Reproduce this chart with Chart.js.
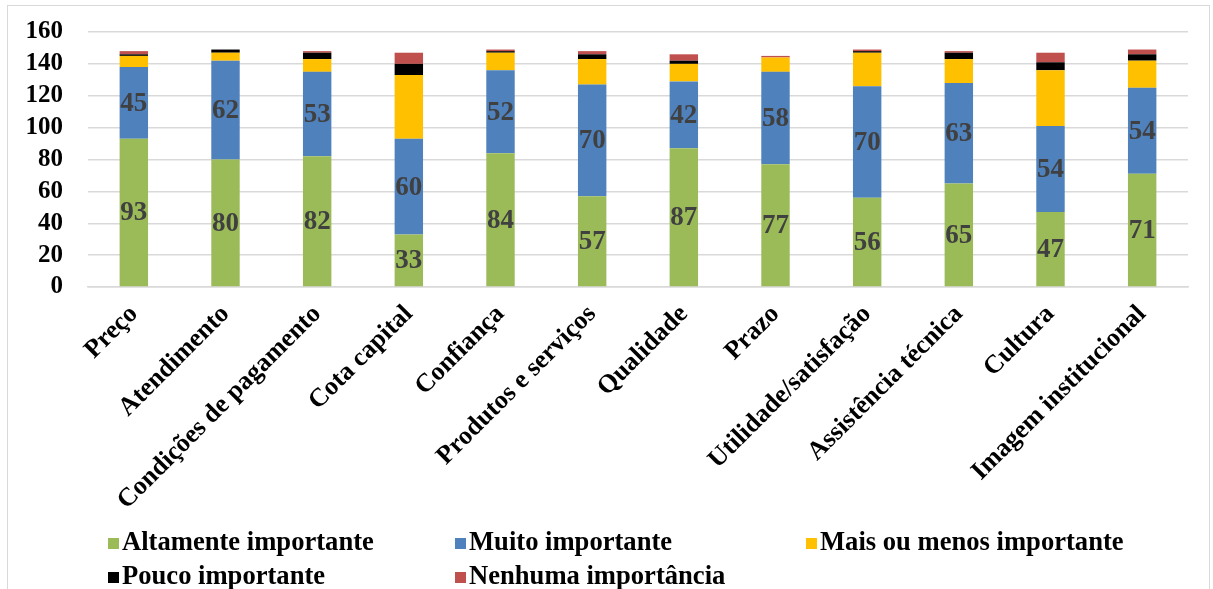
<!DOCTYPE html>
<html>
<head>
<meta charset="utf-8">
<script src="https://cdn.jsdelivr.net/npm/chart.js@4.4.1/dist/chart.umd.min.js"></script>
<style>
  html, body { margin: 0; padding: 0; background: #fff; overflow: hidden; }
  #frame { position: absolute; left: 7px; top: 5px; width: 1203px; height: 600px; border: 1.5px solid #d9d9d9; box-sizing: border-box; }
  #wrap { position: absolute; left: 0; top: 0; width: 1213px; height: 589px; }
  .legend { position: absolute; font-family: "Liberation Serif", "Times New Roman", serif; font-weight: bold; font-size: 26.6px; line-height: 30px; color: #000; white-space: nowrap; }
  .legend i { display: inline-block; width: 11px; height: 11px; margin-right: 3px; vertical-align: 1px; }
</style>
</head>
<body>
<div id="frame"></div>
<div id="wrap"><canvas id="chart"></canvas></div>
<div id="legend"></div>
<script>
const categories = ['Preço', 'Atendimento', 'Condições de pagamento', 'Cota capital', 'Confiança',
  'Produtos e serviços', 'Qualidade', 'Prazo', 'Utilidade/satisfação', 'Assistência técnica',
  'Cultura', 'Imagem institucional'];
const altamente = [93, 80, 82, 33, 84, 57, 87, 77, 56, 65, 47, 71];
const muito = [45, 62, 53, 60, 52, 70, 42, 58, 70, 63, 54, 54];
const maisOuMenos = [7, 5, 8, 40, 11, 16, 11, 9, 21, 15, 35, 17];
const pouco = [1, 2, 4, 7, 1, 3, 2, 0, 1, 4, 5, 4];
const nenhuma = [2, 0, 1, 7, 1, 2, 4, 1, 1, 1, 6, 3];
const yTicks = [0, 20, 40, 60, 80, 100, 120, 140, 160];

const seriesNames = ['Altamente importante', 'Muito importante', 'Mais ou menos importante',
  'Pouco importante', 'Nenhuma importância'];
const seriesColors = ['#9BBB59', '#4F81BD', '#FFC000', '#000000', '#C0504D'];
const seriesData = [altamente, muito, maisOuMenos, pouco, nenhuma];

const SERIF = '"Liberation Serif", "Times New Roman", serif';

// values printed inside the green and blue segments only
const segmentLabels = {
  id: 'segmentLabels',
  afterDatasetsDraw(chart) {
    const ctx = chart.ctx;
    ctx.save();
    ctx.font = `bold 27px ${SERIF}`;
    ctx.fillStyle = '#404040';
    ctx.textAlign = 'center';
    ctx.textBaseline = 'middle';
    [0, 1].forEach((di) => {
      chart.getDatasetMeta(di).data.forEach((bar, i) => {
        const { x, y, base } = bar.getProps(['x', 'y', 'base'], true);
        ctx.fillText(String(chart.data.datasets[di].data[i]), x, (y + base) / 2 + 1);
      });
    });
    ctx.restore();
  },
};

new Chart(document.getElementById('chart'), {
  type: 'bar',
  data: {
    labels: categories,
    datasets: seriesNames.map((name, i) => ({
      label: name,
      data: seriesData[i],
      backgroundColor: seriesColors[i],
      barPercentage: 0.31,
      categoryPercentage: 1,
    })),
  },
  options: {
    responsive: true,
    maintainAspectRatio: false,
    animation: false,
    layout: { padding: { left: 0, top: 32, right: 25, bottom: 0 } },
    plugins: { legend: { display: false }, tooltip: { enabled: false } },
    scales: {
      x: {
        stacked: true,
        grid: { display: false },
        border: { color: '#d9d9d9', width: 1.5 },
        ticks: {
          color: '#000',
          font: { family: SERIF, size: 26, weight: 'bold' },
          minRotation: 45,
          maxRotation: 45,
          autoSkip: false,
          padding: 4,
        },
        afterFit: (scale) => { scale.height = 302; scale.paddingTop = 0; },
      },
      y: {
        stacked: true,
        min: 0,
        max: 160,
        afterBuildTicks: (scale) => { scale.ticks = yTicks.map((v) => ({ value: v })); },
        grid: { color: '#d9d9d9', lineWidth: 1.5, drawTicks: false },
        border: { display: false },
        ticks: {
          color: '#000',
          font: { family: SERIF, size: 25, weight: 'bold' },
          autoSkip: false,
          padding: 25,
        },
        afterFit: (scale) => { scale.width = 88; scale.paddingTop = 0; scale.paddingBottom = 0; },
      },
    },
  },
  plugins: [segmentLabels],
});

// legend laid out in three fixed columns like the original
const legendPos = [[108, 526], [455, 526], [806, 526], [108, 560], [455, 560]];
document.getElementById('legend').innerHTML = seriesNames.map((name, i) =>
  `<div class="legend" style="left:${legendPos[i][0]}px;top:${legendPos[i][1]}px"><i style="background:${seriesColors[i]}"></i>${name}</div>`).join('');
</script>
</body>
</html>
